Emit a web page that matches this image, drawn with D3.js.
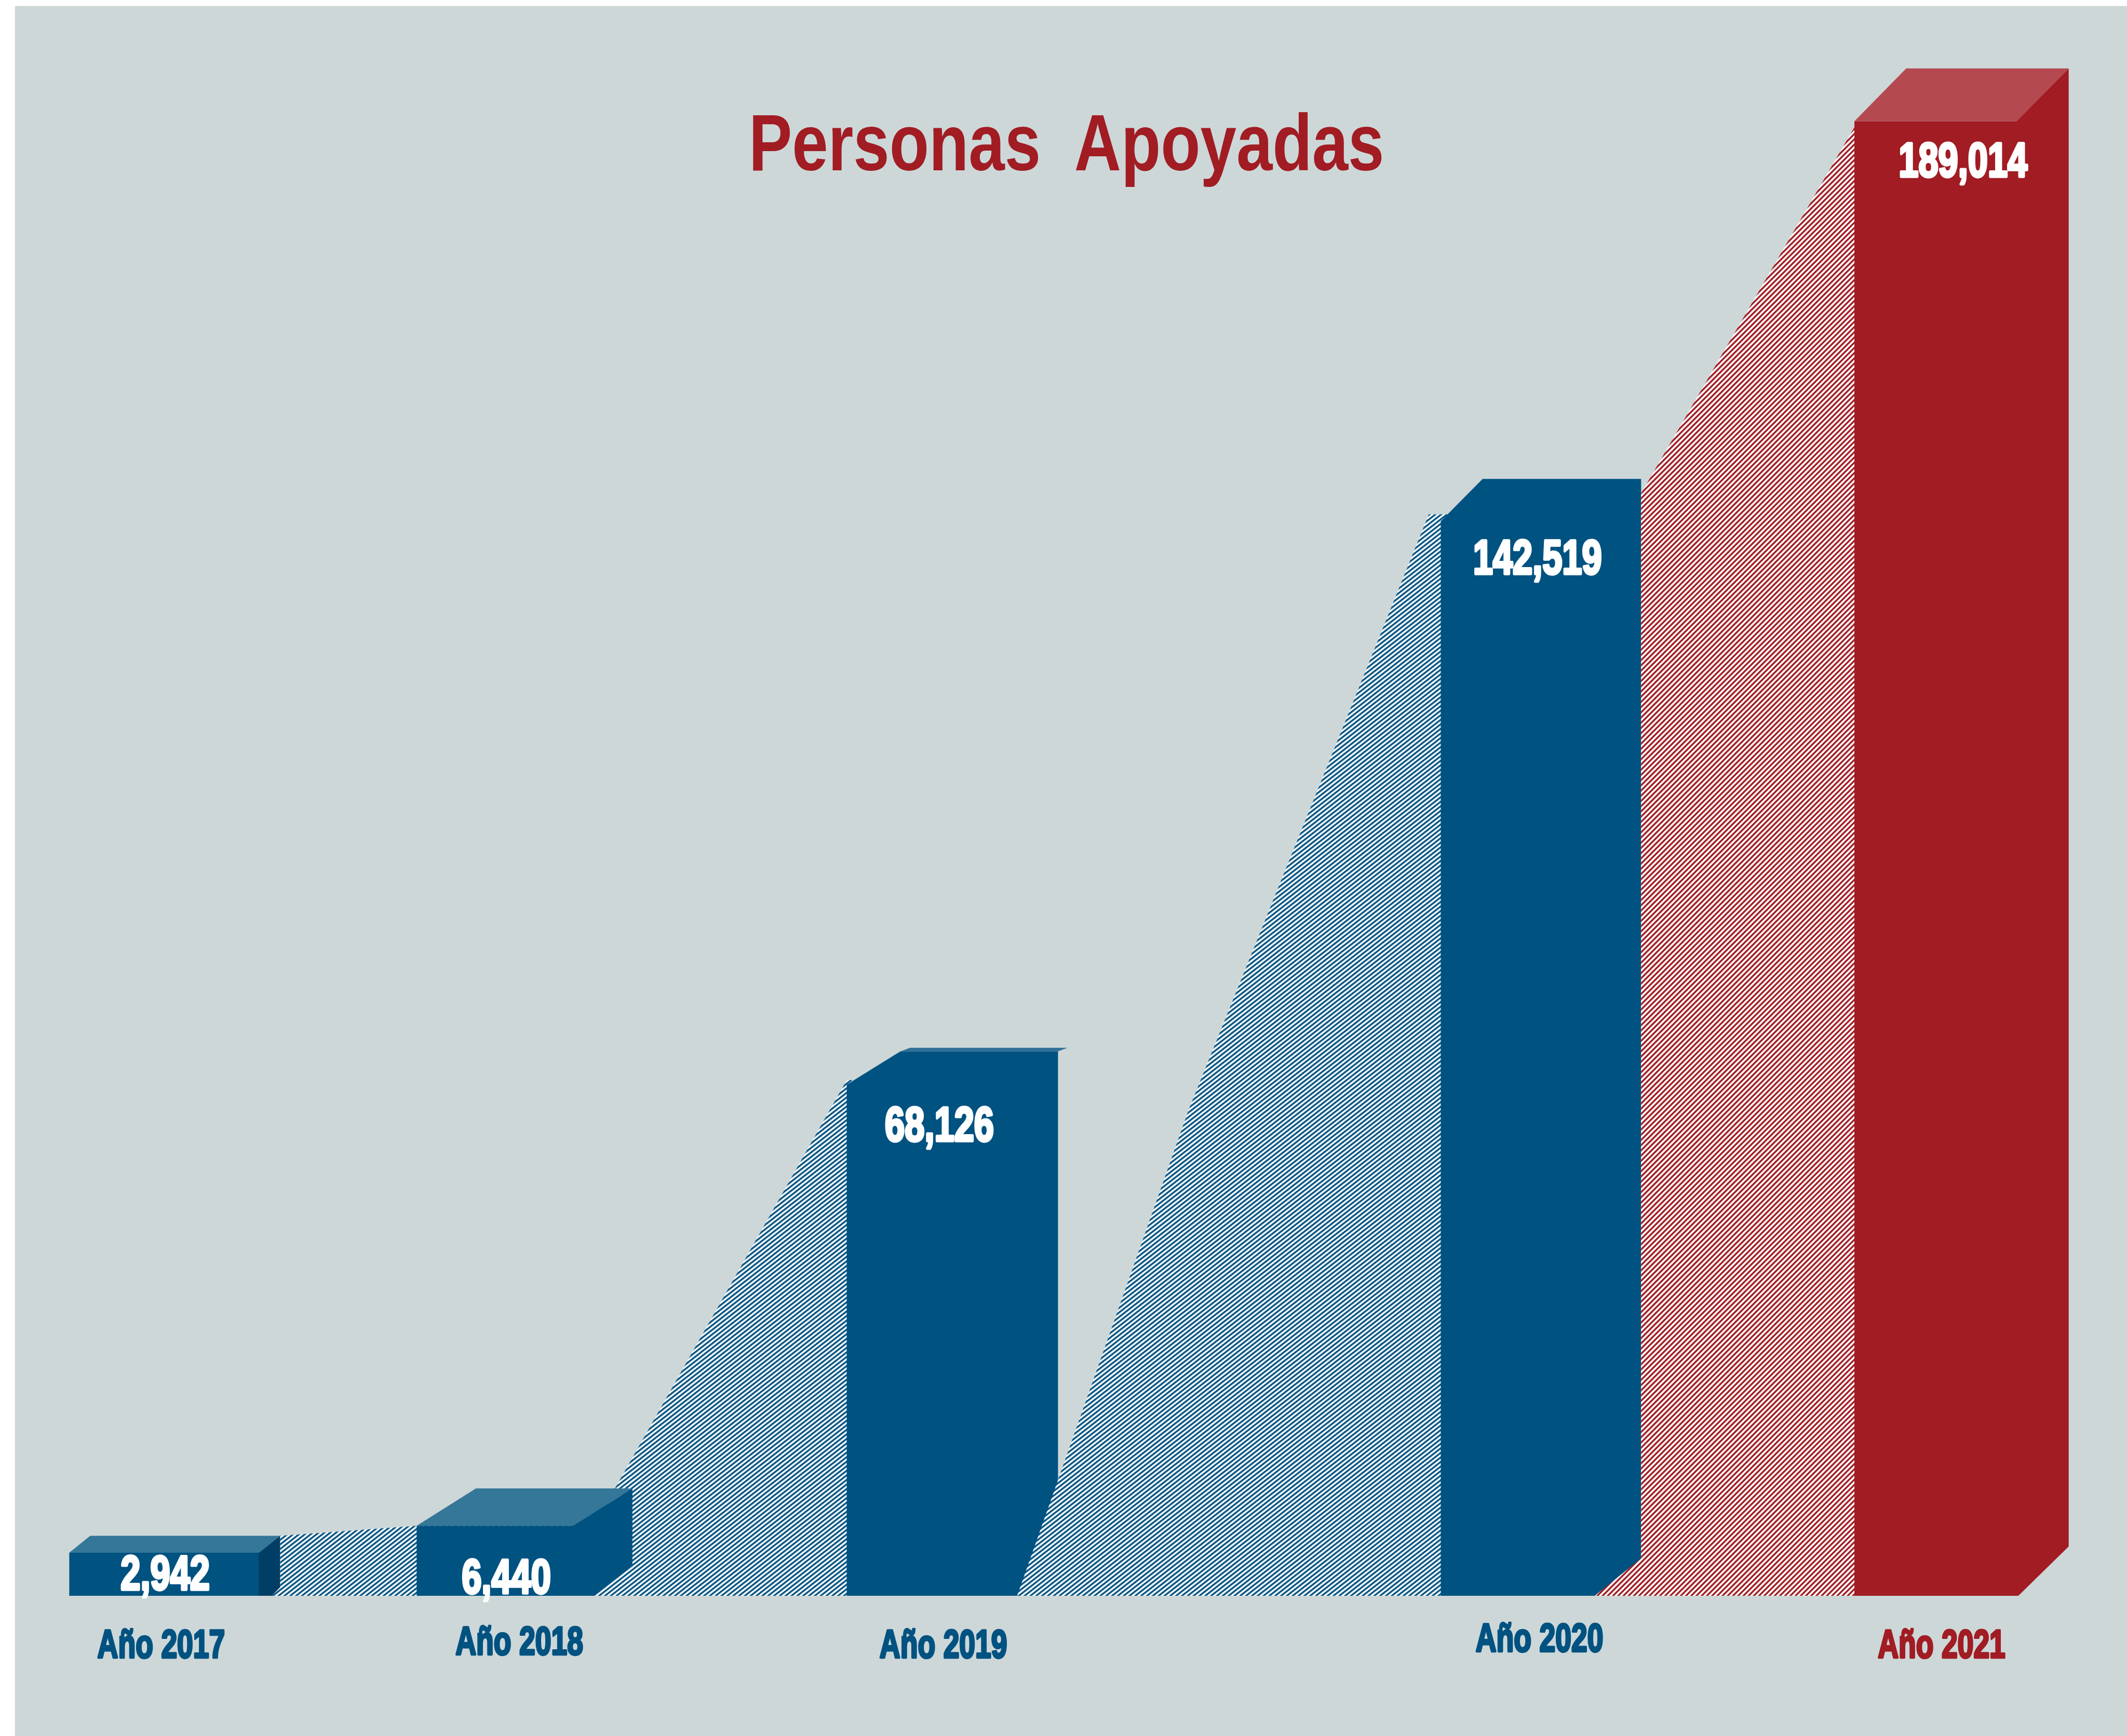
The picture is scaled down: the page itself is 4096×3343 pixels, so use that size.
<!DOCTYPE html>
<html>
<head>
<meta charset="utf-8">
<script src="https://cdn.jsdelivr.net/npm/d3@7"></script>
<style>
html,body{margin:0;padding:0;background:#fff;overflow:hidden;}
svg{display:block;}
</style>
</head>
<body>
<script>
// ---------------- DATA ----------------
const title = "Personas  Apoyadas";
const categories = ["Año 2017", "Año 2018", "Año 2019", "Año 2020", "Año 2021"];
const values = [2942, 6440, 68126, 142519, 189014];
const valueLabels = ["2,942", "6,440", "68,126", "142,519", "189,014"];

// ---------------- LAYOUT (reference pixel space 4268 x 3483) ----------------
const W = 4268, H = 3483;
const S = 4096 / 4268;
const base = 3202;
const barLeft  = [139, 836, 1699, 2891, 3721];
const barWidth = [381, 314, 424, 402, 326];
const depthX   = [42, 119, 19, 0, 104];
const depthY   = [34, 75, 7, 0, 106];
const cutX     = [0, 0, 108, 84, 0];      // top-left bevel
const cutY     = [0, 0, 67, 85, 0];
const sideBottomY = [17, 62, 0, 0, 99];   // side face bottom edge
const sideBottomX = [25, 40, 0, 0, 3];
const valueDy  = [75, 136, 181, 191, 112];
const valueDx  = [2, 23, -26, -7, 55];
const catDx    = [-6, 49, -18, -3, 12];
const catBase  = [3327, 3321, 3327, 3315, 3327];
const titleBox = { cx: 2140, baseline: 342, width: 1275 };

const BG = "#CDD7D8";
const BLUE = "#005281", BLUE_TOP = "#347798", BLUE_DARK = "#003E65";
const RED = "#A11C23", RED_TOP = "#B44A50";
const frontColor = [BLUE, BLUE, BLUE, BLUE, RED];
const topColor   = [BLUE_TOP, BLUE_TOP, "#2F7096", null, RED_TOP];
const sideColor  = [BLUE_DARK, BLUE, null, null, RED];
const catColor   = [BLUE, BLUE, BLUE, BLUE, RED];

// ---------------- SCALES ----------------
const y = d3.scaleLinear().domain([-2650, 190000]).range([base, 228]);
const xLeft  = d3.scaleOrdinal(categories, barLeft);
const xWidth = d3.scaleOrdinal(categories, barWidth);

const bars = categories.map((c, i) => {
  const x0 = xLeft(c), w = xWidth(c);
  return { i, c, v: values[i], x0, x1: x0 + w, w, t: y(values[i]),
           dx: depthX[i], dy: depthY[i] };
});

// ---------------- SVG ----------------
const svg = d3.select("body").append("svg")
  .attr("width", 4096).attr("height", 3343);
svg.append("rect").attr("width", 4096).attr("height", 3343).attr("fill", "#fff");

const defs = svg.append("defs");
function hatch(id, color, angle, period, thick) {
  const p = defs.append("pattern").attr("id", id)
    .attr("patternUnits", "userSpaceOnUse")
    .attr("width", 20).attr("height", period)
    .attr("patternTransform", `rotate(${-angle})`);
  p.append("rect").attr("width", 20).attr("height", period).attr("fill", "#fff");
  p.append("rect").attr("width", 20).attr("height", thick).attr("fill", color);
}
hatch("hb", BLUE, 38, 7.2, 3.6);
hatch("hr", RED, 45, 7.4, 3.6);

const g = svg.append("g").attr("transform", `scale(${S})`);
g.append("rect").attr("x", 30).attr("y", 12)
  .attr("width", W - 30 + 10).attr("height", H - 12 + 10).attr("fill", BG);

const poly = pts => d3.line()(pts) + "Z";
const [b0, b1, b2, b3, b4] = bars;

// hatched area behind first bars (blue)
const h1 = [
  [b0.x1 + sideBottomX[0], base],
  [b0.x1 + b0.dx, base - sideBottomY[0]],
  [b0.x1 + b0.dx, b0.t - b0.dy],
  [b1.x0, b1.t],
  [b1.x1 + b1.dx - 35, b1.t - b1.dy],
  [b2.x0, b2.t + 58],
  [b2.x0 + 60, b2.t + 58],
  [b2.x0 + 60, base]
];

// hatched area between 2019 and 2020 (blue)
const h2Base = [b2.x1 - 82, base];
const h2Top = [b3.x0 - 24, b3.t + 71];
const f = 0.449;
const h2Bend = [h2Base[0] + f * (h2Top[0] - h2Base[0]) - 27,
                base - f * (base - h2Top[1])];
const h2 = [h2Base, h2Bend, h2Top, [b3.x0 + 20, b3.t + 71], [b3.x0 + 20, base]];

// hatched area between 2020 and 2021 (red)
const r1 = [
  [b3.x1 - 93, base],
  [b3.x1, base - 75],
  [b3.x1, b3.t + 29],
  [b4.x0, b4.t + 12],
  [b4.x0 + 10, b4.t + 12],
  [b4.x0 + 10, base]
];

function drawBar(b) {
  const i = b.i;
  const grp = g.append("g").attr("class", "bar");
  grp.append("path").attr("fill", frontColor[i]).attr("d", poly([
    [b.x0, base], [b.x0, b.t + cutY[i]], [b.x0 + cutX[i], b.t],
    [b.x1, b.t], [b.x1, base]
  ]));
  if (sideColor[i]) {
    grp.append("path").attr("fill", sideColor[i]).attr("d", poly([
      [b.x1 - 1, b.t], [b.x1 + b.dx, b.t - b.dy],
      [b.x1 + b.dx, base - sideBottomY[i]],
      [b.x1 + sideBottomX[i], base], [b.x1 - 1, base]
    ]));
  }
  if (topColor[i]) {
    grp.append("path").attr("fill", topColor[i]).attr("d", poly([
      [b.x0 + cutX[i], b.t], [b.x0 + cutX[i] + b.dx, b.t - b.dy],
      [b.x1 + b.dx, b.t - b.dy], [b.x1, b.t]
    ]));
  }
}

g.append("path").attr("fill", "url(#hb)").attr("d", poly(h1));
drawBar(b0);
drawBar(b1);
drawBar(b2);
g.append("path").attr("fill", "url(#hb)").attr("d", poly(h2));
drawBar(b3);
g.append("path").attr("fill", "url(#hr)").attr("d", poly(r1));
drawBar(b4);

const fontFam = "'Liberation Sans', Arial, Helvetica, sans-serif";

// value labels
g.selectAll("text.value").data(bars).join("text")
  .attr("class", "value")
  .attr("transform", b => `translate(${b.x0 + b.w / 2 + valueDx[b.i]},${b.t + valueDy[b.i] - 1}) scale(0.745,1)`)
  .attr("text-anchor", "middle")
  .style("font-family", fontFam).style("font-weight", "bold").style("font-size", "96px")
  .attr("fill", "#fff").attr("stroke", "#fff").attr("stroke-width", 5.5)
  .attr("stroke-linejoin", "round")
  .text(b => valueLabels[b.i]);

// category labels
g.selectAll("text.cat").data(bars).join("text")
  .attr("class", "cat")
  .attr("transform", b => `translate(${b.x0 + b.w / 2 + catDx[b.i]},${catBase[b.i] - 1}) scale(0.72,1)`)
  .attr("text-anchor", "middle")
  .style("font-family", fontFam).style("font-weight", "bold").style("font-size", "80px")
  .attr("fill", b => catColor[b.i]).attr("stroke", b => catColor[b.i]).attr("stroke-width", 4.5)
  .attr("stroke-linejoin", "round")
  .text(b => b.c);

// title (double space preserved)
const tt = g.append("text")
  .attr("text-anchor", "middle")
  .style("white-space", "pre")
  .attr("xml:space", "preserve")
  .style("font-family", fontFam).style("font-weight", "bold").style("font-size", "160px")
  .attr("fill", RED)
  .text(title);
const natural = tt.node().getComputedTextLength() || 1580;
tt.attr("transform", `translate(${titleBox.cx},${titleBox.baseline}) scale(${titleBox.width / natural},1)`);
</script>
</body>
</html>
